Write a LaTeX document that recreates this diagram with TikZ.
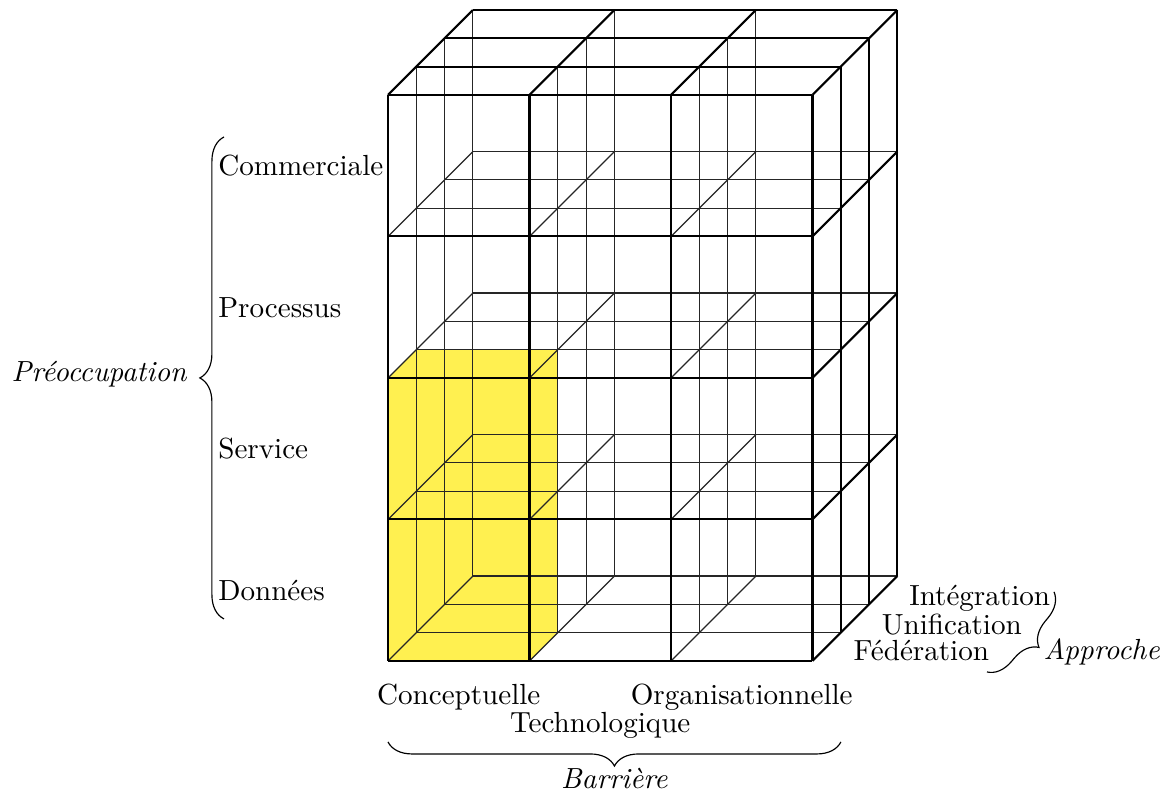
\documentclass[tikz,border=0pt]{standalone}
\usetikzlibrary{decorations.pathreplacing}
\definecolor{hl}{RGB}{255,240,80}
\begin{document}
\begin{tikzpicture}[x={(48.62pt,0pt)}, y={(0pt,48.62pt)}, z={(9.724pt,9.724pt)},
  innerline/.style={line width=0.4pt, black!85},
  outerline/.style={line width=0.7pt, black},
  brc/.style={decorate, decoration={brace, amplitude=8.3pt}, line width=0.4pt},
  lbl/.style={inner sep=0pt}]
\useasboundingbox (-2.742,-0.954) rectangle (5.463,4.671);
% highlighted block
\fill[hl] (0,0,0) -- (1,0,0) -- (1,0,1) -- (1,2,1) -- (0,2,1) -- (0,2,0) -- cycle;
% hidden (inner) edges
\foreach \z in {1,2,3} {
  \foreach \x in {0,1,2} \draw[innerline] (\x,0,\z) -- (\x,4,\z);
  \foreach \y in {0,1,2,3} \draw[innerline] (0,\y,\z) -- (3,\y,\z);
}
\foreach \x in {0,1,2} \foreach \y in {0,1,2,3} \draw[innerline] (\x,\y,0) -- (\x,\y,3);
% visible edges: front
\foreach \x in {0,1,2,3} \draw[outerline] (\x,0,0) -- (\x,4,0);
\foreach \y in {0,1,2,3,4} \draw[outerline] (0,\y,0) -- (3,\y,0);
% top
\foreach \z in {1,2,3} \draw[outerline] (0,4,\z) -- (3,4,\z);
\foreach \x in {0,1,2,3} \draw[outerline] (\x,4,0) -- (\x,4,3);
% right
\foreach \z in {1,2,3} \draw[outerline] (3,0,\z) -- (3,4,\z);
\foreach \y in {0,1,2,3} \draw[outerline] (3,\y,0) -- (3,\y,3);
% row labels
\node[lbl, anchor=base west] (com) at (-1.203,3.43) {Commerciale};
\node[lbl, anchor=base west] (pro) at (-1.203,2.43) {Processus};
\node[lbl, anchor=base west] (ser) at (-1.203,1.43) {Service};
\node[lbl, anchor=base west] (don) at (-1.203,0.43) {Données};
\coordinate (lb1) at (-1.159,0.297);
\coordinate (lb2) at (-1.159,3.703);
\draw[brc] (lb1) -- (lb2);
\node[lbl, anchor=base east] (pre) at (-1.42,1.972) {\itshape Préoccupation};
% column labels
\node[lbl, anchor=base] (con) at (0.5,-0.311) {Conceptuelle};
\node[lbl, anchor=base] (org) at (2.5,-0.311) {Organisationnelle};
\node[lbl, anchor=base] (tec) at (1.5,-0.509) {Technologique};
\coordinate (bb1) at (3.201,-0.572);
\coordinate (bb2) at (0,-0.572);
\draw[brc] (bb1) -- (bb2);
\node[lbl, anchor=base] (bar) at (1.6,-0.903) {\itshape Barrière};
% depth labels
\node[lbl, anchor=base west] (fed) at (3.286,0) {Fédération};
\node[lbl, anchor=base west] (uni) at (3.486,0.19) {Unification};
\node[lbl, anchor=base west] (int) at (3.680,0.39) {Intégration};
\coordinate (rb1) at (4.707,0.488);
\coordinate (rb2) at (4.233,-0.078);
\draw[brc] (rb1) -- (rb2);
\node[lbl, anchor=base west] (app) at (4.629,0.012) {\itshape Approche};
\end{tikzpicture}
\end{document}
